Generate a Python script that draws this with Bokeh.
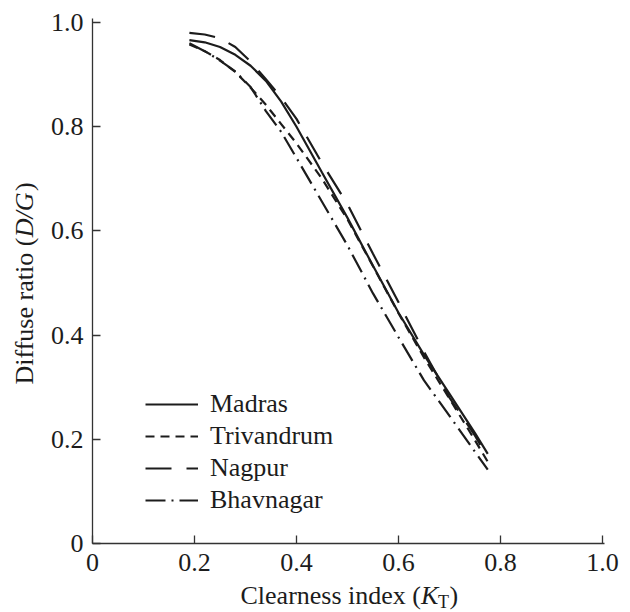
from bokeh.plotting import figure
from bokeh.models import Range1d, FixedTicker, CustomJSTickFormatter, Label
from bokeh.embed import file_html
from bokeh.resources import INLINE

# Clearness index K_T and diffuse ratio D/G for four Indian stations
kt = [0.19, 0.22, 0.25, 0.28, 0.31, 0.34, 0.37, 0.40, 0.45, 0.50,
      0.55, 0.60, 0.65, 0.70, 0.75, 0.775]
madras = [0.966, 0.962, 0.953, 0.938, 0.917, 0.888, 0.848, 0.800, 0.712, 0.625,
          0.533, 0.443, 0.362, 0.287, 0.212, 0.172]
trivandrum = [0.958, 0.945, 0.928, 0.905, 0.875, 0.842, 0.805, 0.768, 0.700, 0.622,
              0.532, 0.442, 0.357, 0.278, 0.198, 0.157]
nagpur = [0.980, 0.977, 0.970, 0.953, 0.925, 0.891, 0.856, 0.815, 0.730, 0.651,
          0.556, 0.463, 0.368, 0.280, 0.207, 0.165]
bhavnagar = [0.960, 0.945, 0.927, 0.906, 0.876, 0.830, 0.790, 0.740, 0.656, 0.572,
             0.480, 0.396, 0.313, 0.245, 0.176, 0.142]

tick_values = [0, 0.2, 0.4, 0.6, 0.8, 1.0]

SERIF = "Liberation Serif"
INK = "#1c1c1c"
FS = "26px"

W, H = 630, 612
# pixel position of the data origin and scale of one unit on each axis
X0, Y0 = 92, 543
SX, SY = 510, 521

# The frame covers the whole canvas; axes are pinned at data zero so that
# the axis titles can be drawn as labels inside the frame.
p = figure(width=W, height=H, output_backend="svg", toolbar_location=None,
           x_range=Range1d(-X0 / SX, (W - X0) / SX),
           y_range=Range1d(-(H - Y0) / SY, Y0 / SY),
           min_border=0, min_border_left=0, min_border_right=0,
           min_border_top=0, min_border_bottom=0)
p.outline_line_color = None
p.grid.visible = False
p.background_fill_color = "white"
p.border_fill_color = "white"

fmt = CustomJSTickFormatter(code="return tick == 0 ? '0' : tick.toFixed(1);")
for ax in (p.xaxis[0], p.yaxis[0]):
    ax.fixed_location = 0
    ax.ticker = FixedTicker(ticks=tick_values)
    ax.formatter = fmt
    ax.major_tick_in = 8
    ax.major_tick_out = 0
    ax.minor_tick_line_color = None
    ax.axis_line_color = "#333333"
    ax.axis_line_width = 1.3
    ax.major_tick_line_color = "#333333"
    ax.major_tick_line_width = 1.3
    ax.major_label_text_font = SERIF
    ax.major_label_text_font_size = FS
    ax.major_label_text_color = INK
p.xaxis.bounds = (0, 1.003)
p.yaxis.bounds = (0, 1.008)
p.xaxis.major_label_standoff = 10
p.yaxis.major_label_standoff = 9

styles = [
    ("Madras", madras, "solid"),
    ("Trivandrum", trivandrum, "9 6"),
    ("Nagpur", nagpur, "26 15"),
    ("Bhavnagar", bhavnagar, "20 6 2 6"),
]
for name, ys, dash in styles:
    p.line(kt, ys, line_color=INK, line_width=2.2, line_dash=dash, legend_label=name)

lg = p.legend[0]
lg.location = (145, 96)
lg.background_fill_alpha = 0
lg.border_line_alpha = 0
lg.padding = 0
lg.spacing = 0
lg.margin = 0
lg.glyph_width = 53
lg.glyph_height = 32
lg.label_height = 32
lg.label_standoff = 12
lg.label_text_font = SERIF
lg.label_text_font_size = FS
lg.label_text_color = INK


def add_text(x, y, text, size=FS, style="normal", angle=0.0):
    p.add_layout(Label(x=x, y=y, x_units="screen", y_units="screen", text=text,
                       text_font=SERIF, text_font_size=size, text_font_style=style,
                       text_color=INK, text_align="left", text_baseline="alphabetic",
                       angle=angle))


# x-axis title: Clearness index (K_T)
bx, by = 240, 17
add_text(bx, by, "Clearness index (")
add_text(bx + 180.5, by, "K", style="italic")
add_text(bx + 197.5, by - 6, "T", size="18px")
add_text(bx + 209.0, by, ")")

# y-axis title: Diffuse ratio (D/G), reading upwards
tx, ty = 24, 228
add_text(tx, ty, "Diffuse ratio (", angle=1.5708)
add_text(tx, ty + 147.3, "D/G", style="italic", angle=1.5708)
add_text(tx, ty + 193.5, ")", angle=1.5708)

open("out.html", "w").write(file_html(p, INLINE))
